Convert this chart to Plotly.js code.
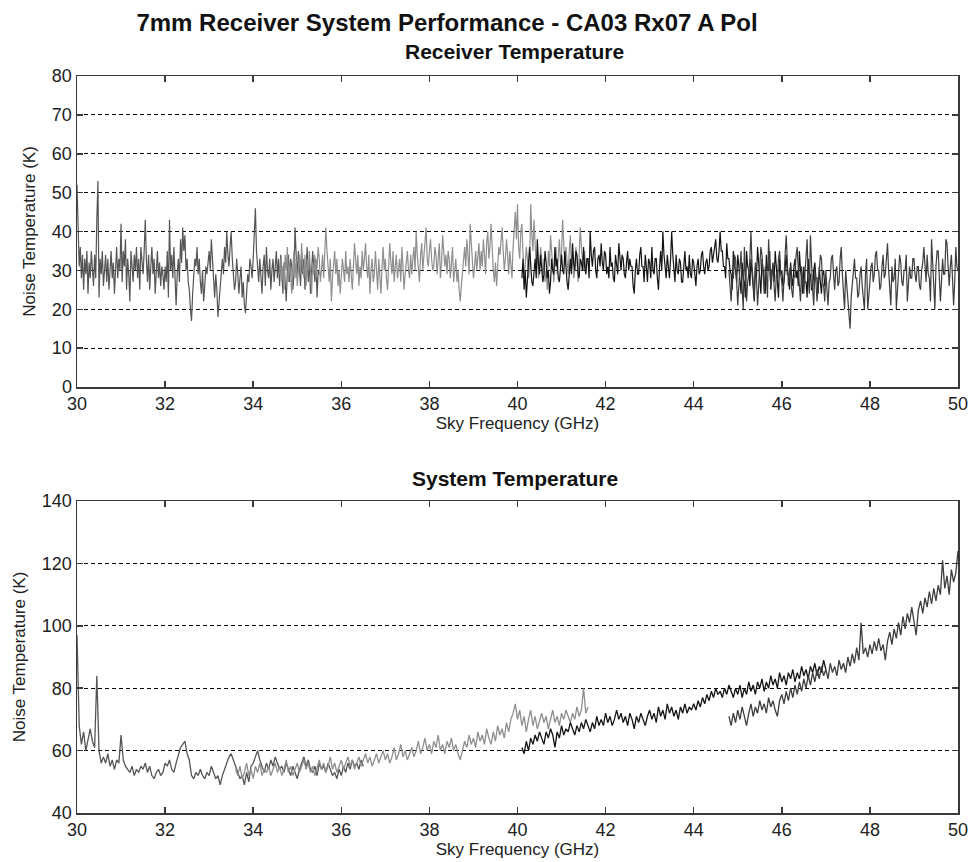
<!DOCTYPE html>
<html>
<head>
<meta charset="utf-8">
<script src="https://cdn.plot.ly/plotly-3.0.1.min.js"></script>
<style>
  html, body { margin: 0; padding: 0; background: #fff; }
  #chart { width: 968px; height: 862px; }
</style>
</head>
<body>
<div id="chart"></div>
<script>
// Frequency sampling steps of the sub-band sweeps (GHz)
const rxStep = 0.025;
const sysStep = 0.05;

// Sub-band start frequencies (GHz)
const bandStartA = 30.0;
const bandStartB = 34.6;
const bandStartC = 40.1;
const bandStartD = 44.8;
const sysStartA = 30.0;
const sysStartB = 33.6;
const sysStartC = 40.1;
const sysStartD = 44.8;

// Receiver temperature (K), one array per sub-band, 20 samples per row
const rxTempA = [
  52,40,31,36,28,34,25,33,29,35,24,32,28,35,30,26,34,28,43,53,
  23,33,29,35,26,31,34,27,33,25,30,35,28,32,24,31,36,28,33,30,
  42,27,35,31,38,25,33,29,22,35,31,27,34,30,36,28,33,25,36,31,
  29,35,43,33,27,34,25,31,36,29,33,24,30,35,28,32,26,31,29,25,
  31,27,35,23,43,30,34,28,36,25,21,29,33,27,38,32,41,35,39,30,
  33,27,25,20,17,24,29,33,31,36,29,33,27,24,30,22,26,31,29,33,
  35,30,38,33,27,23,29,25,18,22,27,31,33,29,36,32,40,34,31,36,
  40,33,30,25,27,33,29,24,28,31,23,27,21,19,24,29,27,33,31,28,
  33,38,46,35,30,27,33,29,24,31,34,26,36,30,28,33,25,30,33,27,
  31,35,28,33,26,34,30,24,32,28,22,30,34,27,33,31,25,29,41,34,
  28,35,31,26,34,29,33,25,30,36,27,33,24,29,35,31,27,33,23,30,
  29
];
const rxTempB = [
  29,33,27,31,25,34,30,36,27,32,29,24,31,35,28,33,26,30,34,29,
  37,31,28,34,26,33,30,35,27,24,32,29,34,28,31,36,33,27,30,34,
  28,33,41,35,30,27,33,22,28,31,35,29,33,26,30,24,28,33,30,27,
  35,29,31,27,33,28,25,31,37,33,29,34,26,31,28,35,30,33,37,31,
  28,34,24,30,33,27,29,35,31,25,33,28,24,31,36,30,33,28,25,31,
  37,32,29,35,27,31,34,28,30,33,27,36,31,25,29,33,35,30,28,34,
  29,33,36,30,40,34,29,27,34,37,30,33,36,41,33,31,35,38,33,30,
  31,36,34,29,33,37,28,32,39,35,31,34,29,35,33,28,31,36,27,30,
  33,27,30,25,22,26,30,33,36,31,38,34,29,42,36,33,28,31,35,30,
  33,37,30,35,31,38,34,29,37,40,33,36,42,35,30,27,32,26,31,36,
  34,38,41,35,30,33,38,34,29,35,32,28,36,40,45,38,47,36,33,40,
  42,34,29,31,36,33,28,31,47,39,35,43,37,31,34,28,31,36,33,29,
  33,27,30,25,35,31,39,34,30,27,33,36,29,34,38,32,35,43,37,31,
  36,33,29,35,39,31,34,28,30,36,33,27,34,41,36,33,30,35,29,32,
  33
];
const rxTempC = [
  28,33,25,30,23,29,32,36,30,27,26,31,33,28,38,32,29,34,30,27,
  29,35,32,28,30,24,27,33,30,29,36,31,33,28,27,31,34,30,29,35,
  30,27,25,31,33,29,37,32,30,35,34,29,28,33,32,30,36,31,29,33,
  33,28,40,34,31,35,36,30,28,33,34,31,37,32,30,35,34,29,31,28,
  36,31,32,28,27,34,31,29,37,33,30,34,33,29,28,32,35,30,33,31,
  31,26,24,30,33,29,29,34,36,31,31,27,34,31,27,33,32,28,36,30,
  29,33,33,28,25,31,35,30,40,34,31,28,34,30,28,33,40,34,30,27,
  34,30,29,33,32,27,27,31,35,30,31,28,34,29,28,33,32,29,26,31,
  33,29,30,34,35,31,29,32,33,30,31,35,36,32,34,37,38,33,32,35,
  40,35,35,31,31,28,37,33,33,30,29,25,35,31,30,27,34,31,28,24,
  32,28,27,23,35,31,30,26,33,29,26,22,31,28,36,32,29,24,33,30,
  27,24,34,30,30,35,25,29,32,27,35,31,28,23,33,29,30,26,27,32,
  34,29,29,25,32,28,26,31,33,28,30,26,35,30,28,24,31,27,27,23,
  33,29,29,25,25,30,32,28,28,24,31,27,24,29,30,26,28
];
const rxTempD = [
  30,25,22,28,28,34,33,27,21,26,30,35,25,20,36,29,22,27,29,33,
  40,31,27,23,32,28,21,26,30,36,34,28,24,31,29,23,38,31,26,30,
  31,26,22,29,28,33,35,29,27,22,30,34,39,31,26,30,31,25,23,28,
  29,34,36,30,27,22,31,26,24,29,33,38,28,24,39,31,25,21,30,27,
  22,27,29,34,33,27,26,22,30,25,21,27,28,33,34,29,25,30,31,26,
  27,33,36,29,24,20,30,26,22,19,15,23,26,31,33,28,28,23,24,29,
  31,26,22,20,29,33,20,25,27,31,32,27,29,34,35,30,30,25,26,31,
  34,28,29,33,37,30,25,21,31,27,28,33,20,26,29,34,32,27,26,30,
  30,34,22,27,31,28,28,33,33,29,27,31,31,26,25,30,32,36,30,27,
  34,29,28,22,38,31,24,20,31,35,35,28,22,27,33,29,29,38,37,31,
  26,31,34,28,21,27,36,31,30
];

// System temperature (K), one array per sub-band, 10 samples per row
const sysTempA = [
  97,68,62,66,60,64,67,63,61,84,
  60,56,58,56,59,55,57,54,57,56,
  65,57,55,54,53,55,52,54,53,55,
  54,56,53,55,52,51,53,54,52,53,
  56,55,57,54,53,56,59,61,62,63,
  59,57,52,51,53,52,54,52,51,53,
  52,55,53,51,52,49,52,54,56,58,
  59,57,55,53,51,52,49,53,50,55,
  56,58,60,57,55,53,56,54,57,55,
  58,56,54,55,53,56,54,52,55,53,
  51,54,56,58,55,57,54,53,55,52,
  56,54,55,53,56,54,52,53,51,54,
  52,55,53,56,54,57,55,56,54,57,
  55
];
const sysTempB = [
  54,52,55,51,53,56,52,54,51,55,
  53,56,52,54,53,55,52,54,56,53,
  55,52,54,57,53,55,52,54,56,53,
  55,57,54,56,53,55,52,55,57,54,
  56,53,55,58,54,56,53,55,57,54,
  56,58,55,57,54,56,58,55,57,59,
  56,58,55,57,59,56,58,60,57,59,
  56,58,61,57,59,62,58,60,57,59,
  61,58,60,63,59,61,64,60,62,59,
  63,61,65,60,62,59,63,61,64,60,
  62,59,57,60,63,61,65,62,64,61,
  66,63,65,62,67,64,62,66,63,68,
  65,67,64,69,66,70,72,75,70,73,
  68,71,66,70,73,68,71,67,70,72,
  69,71,67,70,73,69,71,68,72,70,
  73,71,69,72,70,74,71,73,80,72,
  74
];
const sysTempC = [
  61,59,63,60,64,62,65,63,66,64,
  62,66,64,67,65,61,66,64,68,65,
  67,66,69,67,65,68,66,69,67,70,
  68,66,69,67,71,68,70,68,72,69,
  71,68,70,73,70,72,69,71,68,72,
  70,67,71,69,72,70,68,71,73,70,
  72,69,74,71,73,70,75,72,74,71,
  73,70,74,72,75,72,74,73,75,73,
  76,74,77,75,78,76,79,77,80,78,
  79,77,80,78,81,79,77,80,78,81,
  77,80,78,82,79,81,78,82,80,83,
  79,82,80,84,81,83,80,85,82,84,
  81,85,83,86,82,85,83,87,84,86,
  83,87,85,88,84,87,85,89,86
];
const sysTempD = [
  71,68,72,69,73,70,74,71,68,72,
  75,71,74,72,76,73,75,72,77,74,
  76,73,71,76,78,75,79,76,80,77,
  81,78,82,79,83,80,84,81,85,82,
  86,83,87,84,86,83,88,85,87,84,
  89,86,88,85,90,87,91,88,93,89,
  101,91,93,90,94,91,95,92,96,92,
  94,89,95,98,94,99,96,101,97,103,
  99,104,101,106,102,97,105,108,104,109,
  106,111,107,112,108,113,110,121,112,116,
  110,118,114,117,124
];

// Tick values
const freqTicks = [30, 32, 34, 36, 38, 40, 42, 44, 46, 48, 50];
const rxTicks = [0, 10, 20, 30, 40, 50, 60, 70, 80];
const sysTicks = [40, 60, 80, 100, 120, 140];

// Line colours of the four sub-band sweeps
const bandColors = ['#555555', '#8f8f8f', '#141414', '#3e3e3e'];

function freqGrid(start, step, n) {
  const out = [];
  for (let i = 0; i < n; i++) out.push(+(start + i * step).toFixed(4));
  return out;
}

function sweep(start, step, values, color, xa, ya, width) {
  return {
    type: 'scatter', mode: 'lines',
    x: freqGrid(start, step, values.length), y: values,
    xaxis: xa, yaxis: ya,
    line: { color: color, width: width },
    hoverinfo: 'x+y', showlegend: false
  };
}

const traces = [
  sweep(bandStartA, rxStep, rxTempA, bandColors[0], 'x', 'y', 1.2),
  sweep(bandStartB, rxStep, rxTempB, bandColors[1], 'x', 'y', 1.2),
  sweep(bandStartC, rxStep, rxTempC, bandColors[2], 'x', 'y', 1.2),
  sweep(bandStartD, rxStep, rxTempD, bandColors[3], 'x', 'y', 1.2),
  sweep(sysStartA, sysStep, sysTempA, bandColors[0], 'x2', 'y2', 1.3),
  sweep(sysStartB, sysStep, sysTempB, bandColors[1], 'x2', 'y2', 1.3),
  sweep(sysStartC, sysStep, sysTempC, bandColors[2], 'x2', 'y2', 1.3),
  sweep(sysStartD, sysStep, sysTempD, bandColors[3], 'x2', 'y2', 1.3)
];

const FONT = 'Liberation Sans, Arial, Helvetica, sans-serif';
const axisCommon = {
  showline: true, linecolor: '#3a3a3a', linewidth: 1.5, mirror: 'ticks',
  ticks: 'inside', ticklen: 6, tickwidth: 1.5, tickcolor: '#3a3a3a',
  zeroline: false, ticklabeloverflow: 'allow',
  tickfont: { family: FONT, size: 18, color: '#222' }
};
const xCommon = Object.assign({}, axisCommon, {
  range: [30, 50], tickvals: freqTicks, showgrid: false,
  title: { text: 'Sky Frequency (GHz)', font: { family: FONT, size: 17, color: '#222' }, standoff: 4 }
});
const yCommon = Object.assign({}, axisCommon, {
  showgrid: true, gridcolor: '#000', gridwidth: 1, griddash: '4px,3px',
  title: { text: 'Noise Temperature (K)', font: { family: FONT, size: 17, color: '#222' }, standoff: 12 }
});

const layout = {
  width: 968, height: 862,
  paper_bgcolor: '#fff', plot_bgcolor: '#fff',
  margin: { l: 77, r: 10, t: 76, b: 49 },
  font: { family: FONT, color: '#222' },
  title: {
    text: '<b>7mm Receiver System Performance - CA03 Rx07 A Pol</b>',
    font: { family: FONT, size: 24, color: '#111' },
    x: 447 / 968, xanchor: 'center', xref: 'container',
    y: 1 - 23 / 862, yanchor: 'middle', yref: 'container'
  },
  xaxis: Object.assign({}, xCommon, { anchor: 'y', domain: [0, 1] }),
  yaxis: Object.assign({}, yCommon, { anchor: 'x', domain: [0.578, 1], range: [0, 80], tickvals: rxTicks }),
  xaxis2: Object.assign({}, xCommon, { anchor: 'y2', domain: [0, 1] }),
  yaxis2: Object.assign({}, yCommon, { anchor: 'x2', domain: [0, 0.4233], range: [40, 140], tickvals: sysTicks }),
  annotations: [
    { text: '<b>Receiver Temperature</b>', xref: 'paper', yref: 'paper',
      x: 0.497, y: 1.0326, xanchor: 'center', yanchor: 'middle', showarrow: false,
      font: { family: FONT, size: 21, color: '#111' } },
    { text: '<b>System Temperature</b>', xref: 'paper', yref: 'paper',
      x: 0.497, y: 0.4545, xanchor: 'center', yanchor: 'middle', showarrow: false,
      font: { family: FONT, size: 21, color: '#111' } }
  ]
};

Plotly.newPlot('chart', traces, layout, { staticPlot: true, displayModeBar: false });
</script>
</body>
</html>
